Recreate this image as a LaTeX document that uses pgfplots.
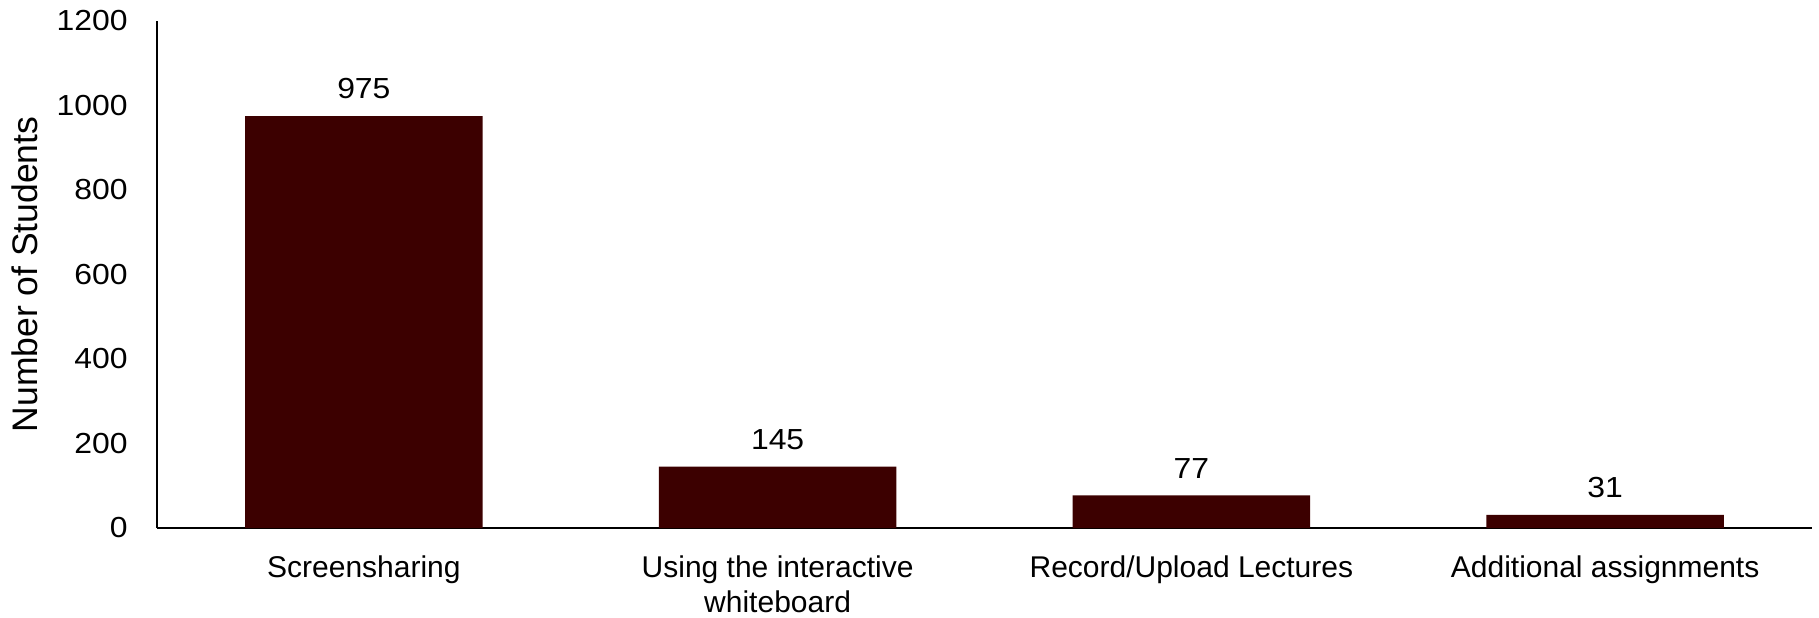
\documentclass[border=0pt]{standalone}
\usepackage{pgfplots}
\pgfplotsset{compat=1.18}
\usepackage{fontspec}
\setmainfont{Liberation Sans}
\newfontfamily\tickfont[FakeStretch=1.1]{Liberation Sans}
\definecolor{barc}{RGB}{60,0,0}
\begin{document}
\begin{tikzpicture}
\begin{axis}[
  scale only axis,
  width=827.5pt, height=253.5pt,
  xmin=-0.5, xmax=3.5, ymin=0, ymax=1200,
  clip=false,
  axis x line=bottom, axis y line=left,
  axis line style={-, line width=1pt, black},
  major tick length=0pt,
  xtick={0,1,2,3},
  xticklabels={Screensharing, {Using the interactive\\whiteboard}, Record/Upload Lectures, Additional assignments},
  ytick={0,200,400,600,800,1000,1200},
  /pgf/number format/assume math mode=true,
  /pgf/number format/1000 sep={},
  yticklabel style={font=\tickfont\fontsize{14.5}{17}\selectfont, inner sep=0pt, anchor=east, xshift=-14.5pt},
  xticklabel style={font=\fontsize{15}{17.5}\selectfont, inner sep=0pt, anchor=north, yshift=-13.5pt, align=center},
  ylabel={Number of Students},
  every axis y label/.style={at={(axis description cs:-0.0798,0.5)}, rotate=90, anchor=center, font=\fontsize{17.75}{20}\selectfont},
  ybar, bar width=0.574,
  nodes near coords,
  every node near coord/.append style={font=\tickfont\fontsize{14.5}{17}\selectfont, inner sep=0pt, anchor=south, yshift=8.5pt, black},
]
\addplot[fill=barc, draw=none] coordinates {(0,975) (1,145) (2,77) (3,31)};
\path (rel axis cs:0,0) ++(-78.5pt,-44.5pt) rectangle ++(909.5pt,308.5pt);
\end{axis}
\end{tikzpicture}
\end{document}
